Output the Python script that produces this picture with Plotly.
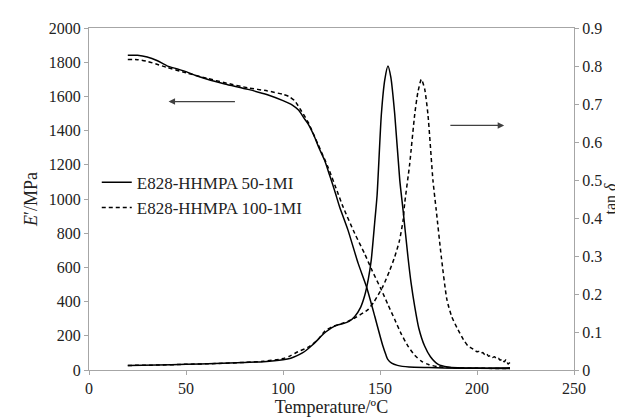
import plotly.graph_objects as go

# ---- data ----
T_E_50 = [20, 25, 30, 35, 40, 45, 50, 55, 61, 70, 82, 92, 100, 105, 108, 111, 113, 116, 118.5,
          121.5, 124, 126.6, 129.2, 133.5, 138.7, 143, 147.3, 150, 151.5, 153, 154, 156, 159,
          165, 175, 183, 200, 217]
E_50 = [1841, 1840, 1830, 1810, 1780, 1762, 1745, 1722, 1700, 1673, 1641, 1610, 1575, 1548,
        1520, 1470, 1438, 1370, 1300, 1225, 1140, 1050, 953, 818, 625, 488, 314, 200, 140, 90,
        62, 40, 27, 17, 14, 12, 10, 9]

T_E_100 = [20, 25, 30, 35, 40, 50, 61, 70, 82, 92, 100, 103, 106, 109.4, 113, 118, 123.2,
           128.4, 131, 137, 142, 146, 150.7, 154, 157.6, 161, 164.4, 168, 171.3, 175, 180, 190,
           200, 217]
E_100 = [1816, 1815, 1805, 1788, 1770, 1738, 1705, 1680, 1650, 1632, 1612, 1600, 1575, 1516,
         1448, 1321, 1186, 1031, 953, 798, 682, 580, 469, 385, 295, 210, 140, 85, 52, 32, 19,
         12, 10, 9]

T_tan_50 = [20, 35, 50, 65, 80, 90, 100, 104, 107, 110, 112, 115, 118, 120, 122, 125, 128, 131,
            134, 137, 140, 142, 144, 145.5, 147.3, 148.5, 150.7, 152.5, 154.1, 155.6, 157.6,
            160.2, 161.9, 164.4, 166, 167.9, 170, 173, 176, 180, 185, 190, 200, 210, 217]
tan_50 = [0.012, 0.013, 0.015, 0.017, 0.020, 0.022, 0.027, 0.031, 0.037, 0.045, 0.052, 0.065,
          0.080, 0.091, 0.100, 0.111, 0.118, 0.122, 0.128, 0.141, 0.165, 0.194, 0.240, 0.290,
          0.390, 0.460, 0.673, 0.765, 0.800, 0.770, 0.673, 0.499, 0.420, 0.298, 0.230, 0.167,
          0.110, 0.063, 0.035, 0.015, 0.008, 0.006, 0.005, 0.005, 0.006]

T_tan_100 = [20, 35, 50, 65, 80, 90, 100, 104, 107.7, 113, 118, 121.5, 125, 130, 133.5, 138,
             143.8, 147, 151.5, 155, 157.6, 160, 161.9, 162.7, 165.3, 167.9, 169.5, 171.3, 173,
             174.7, 177.3, 179, 181.6, 184.5, 187, 190.2, 193, 195.4, 197, 198, 199, 200, 201,
             202, 203, 204, 205, 206, 207, 208, 209, 210, 211, 212, 213, 214, 215, 216, 217]
tan_100 = [0.012, 0.013, 0.015, 0.017, 0.020, 0.023, 0.030, 0.038, 0.048, 0.060, 0.080, 0.102,
           0.113, 0.122, 0.128, 0.140, 0.159, 0.180, 0.220, 0.262, 0.298, 0.340, 0.394, 0.438,
           0.542, 0.673, 0.730, 0.765, 0.740, 0.673, 0.499, 0.420, 0.298, 0.185, 0.140, 0.106,
           0.080, 0.063, 0.058, 0.055, 0.051, 0.048, 0.049, 0.044, 0.046, 0.040, 0.042, 0.036,
           0.038, 0.033, 0.035, 0.030, 0.031, 0.026, 0.029, 0.022, 0.027, 0.016, 0.020]

labels = ["E828-HHMPA 50-1MI", "E828-HHMPA 100-1MI"]

FONT = "Liberation Serif"
TXT = "#222222"
AXC = "#a6a6a6"
tickf = dict(family=FONT, size=16, color=TXT)
titlef = dict(family=FONT, size=18, color=TXT)

fig = go.Figure()
fig.add_trace(go.Scatter(x=T_E_50, y=E_50, mode="lines", name=labels[0],
                         line=dict(color="black", width=1.5, shape="spline", smoothing=0.6)))
fig.add_trace(go.Scatter(x=T_E_100, y=E_100, mode="lines", name=labels[1],
                         line=dict(color="black", width=1.5, dash="4px,3px", shape="spline", smoothing=0.6)))
fig.add_trace(go.Scatter(x=T_tan_50, y=tan_50, mode="lines", yaxis="y2", showlegend=False,
                         line=dict(color="black", width=1.5, shape="spline", smoothing=0.6)))
fig.add_trace(go.Scatter(x=T_tan_100, y=tan_100, mode="lines", yaxis="y2", showlegend=False,
                         line=dict(color="black", width=1.5, dash="4px,3px", shape="spline", smoothing=0.6)))

# direction arrows
fig.add_annotation(x=41, y=1570, ax=76, ay=1570, xref="x", yref="y", axref="x", ayref="y",
                   text="", showarrow=True, arrowhead=2, arrowsize=1, arrowwidth=1.3,
                   arrowcolor="#404040")
fig.add_annotation(x=214, y=1430, ax=185.5, ay=1430, xref="x", yref="y", axref="x", ayref="y",
                   text="", showarrow=True, arrowhead=2, arrowsize=1, arrowwidth=1.3,
                   arrowcolor="#404040")

fig.update_layout(
    width=623, height=418,
    margin=dict(l=81, r=57, t=20, b=54),
    paper_bgcolor="white", plot_bgcolor="white",
    font=dict(family=FONT, size=16, color=TXT),
    showlegend=True,
    legend=dict(x=0.016, y=0.60, xanchor="left", yanchor="top", bgcolor="rgba(0,0,0,0)",
                font=dict(family=FONT, size=17, color=TXT), tracegroupgap=0),
    xaxis=dict(range=[0, 250], dtick=50, showgrid=False, zeroline=False,
               showline=True, linecolor=AXC, linewidth=1.3, mirror=True,
               ticks="outside", ticklen=4, tickcolor=AXC, tickfont=tickf,
               title=dict(text="Temperature/ºC", font=titlef, standoff=4)),
    yaxis=dict(range=[0, 2000], dtick=200, showgrid=False, zeroline=False,
               showline=True, linecolor=AXC, linewidth=1.3,
               ticks="outside", ticklen=4, tickcolor=AXC, tickfont=tickf,
               title=dict(text="<i>E</i>′/MPa", font=titlef, standoff=6)),
    yaxis2=dict(range=[0, 0.9], dtick=0.1, overlaying="y", side="right", showgrid=False,
                zeroline=False, showline=True, linecolor=AXC, linewidth=1.3,
                ticks="outside", ticklen=4, tickcolor=AXC, tickformat=".1~f", tickfont=tickf,
                title=dict(text="tan <i>δ</i>", font=dict(family=FONT, size=16, color=TXT),
                           standoff=0)),
)

fig.write_html("out.html")
